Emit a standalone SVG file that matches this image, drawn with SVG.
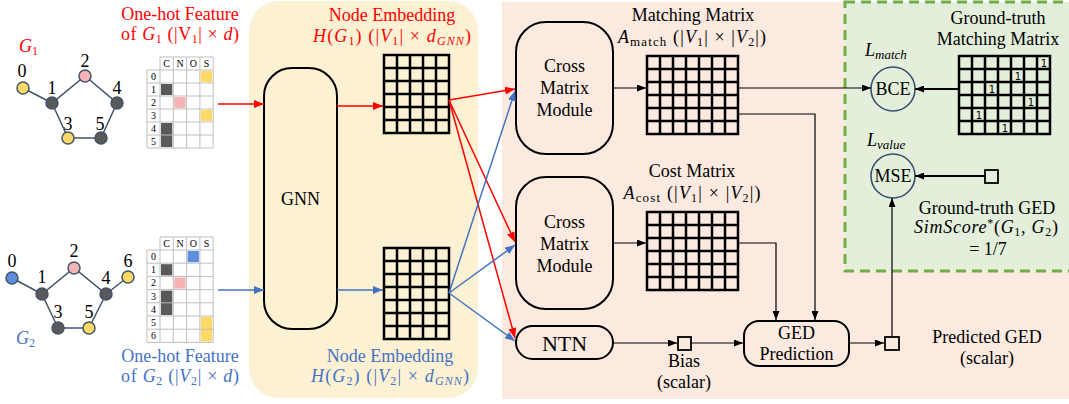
<svg xmlns="http://www.w3.org/2000/svg" width="1069" height="404" viewBox="0 0 1069 404" font-family="'Liberation Serif','DejaVu Serif','Noto Serif',serif">
<style>
text{font-family:'Liberation Serif','DejaVu Serif','Noto Serif',serif;font-size:18px;fill:#000}
.red{fill:#FF0000}
.blue{fill:#4472C4}
.it{font-style:italic}
.sm{font-size:10px}
.big{font-size:22px}
.one{font-family:'DejaVu Sans',sans-serif;font-size:10px}
.box{fill:none;stroke:#000;stroke-width:2}
.mat{fill:none;stroke:#000;stroke-width:2.5;stroke-linecap:square}
.tbl{fill:none;stroke:#BFBFBF;stroke-width:1}
.edge{stroke:#44546A;stroke-width:1.5;fill:none}
.nd{stroke:#44546A;stroke-width:1.5}
.y{fill:#FFD966}.p{fill:#F6B3B3}.d{fill:#595959}.b{fill:#5B8FDC}
.cr{fill:none;stroke:#3A5070;stroke-width:1.6}
.cR{stroke:#FF0000;stroke-width:1.5;fill:none}
.cB{stroke:#4472C4;stroke-width:1.5;fill:none}
.cK{stroke:#000;stroke-width:1.2;fill:none}
.cK2{stroke:#000;stroke-width:2;fill:none}
</style>
<defs>
<marker id="aR" markerUnits="userSpaceOnUse" markerWidth="10" markerHeight="8" refX="10" refY="4" orient="auto"><path d="M0,0 L10,4 L0,8 z" fill="#FF0000"/></marker>
<marker id="aB" markerUnits="userSpaceOnUse" markerWidth="10" markerHeight="8" refX="10" refY="4" orient="auto"><path d="M0,0 L10,4 L0,8 z" fill="#4472C4"/></marker>
<marker id="aK" markerUnits="userSpaceOnUse" markerWidth="9" markerHeight="7" refX="9" refY="3.5" orient="auto"><path d="M0,0 L9,3.5 L0,7 z" fill="#000"/></marker>
</defs>

<!-- backgrounds -->
<g id="backgrounds">
<rect x="249" y="1" width="229" height="397" rx="30" fill="#FDF1D3"/>
<rect x="502" y="2" width="567" height="397" fill="#FCEAE0"/>
<rect x="845" y="2" width="230" height="269" fill="#E3EFDB" stroke="#70AD47" stroke-width="3" stroke-dasharray="10,6"/>
</g>

<!-- Graph G1 -->
<g id="graph-g1">
<text x="19" y="52" class="red it">G<tspan font-size="12" dy="3" font-style="normal">1</tspan></text>
<path class="edge" d="M23,88 L52,103 L85,76 L117,103 L101,138 L68,138 L52,103"/>
<circle class="nd y" cx="23" cy="88" r="6"/>
<circle class="nd d" cx="52" cy="103" r="6"/>
<circle class="nd p" cx="85" cy="76" r="6"/>
<circle class="nd d" cx="117" cy="103" r="6"/>
<circle class="nd y" cx="68" cy="138" r="6"/>
<circle class="nd d" cx="101" cy="138" r="6"/>
<text x="22" y="77" text-anchor="middle">0</text>
<text x="52" y="94" text-anchor="middle">1</text>
<text x="85" y="67" text-anchor="middle">2</text>
<text x="117" y="94" text-anchor="middle">4</text>
<text x="68" y="130" text-anchor="middle">3</text>
<text x="100" y="130" text-anchor="middle">5</text>
</g>

<!-- Graph G2 -->
<g id="graph-g2">
<path class="edge" d="M12,278 L42,294 L74,268 L106,294 L128,277 M106,294 L89,328 L58,328 L42,294"/>
<circle class="nd b" cx="12" cy="278" r="6"/>
<circle class="nd d" cx="42" cy="294" r="6"/>
<circle class="nd p" cx="74" cy="268" r="6"/>
<circle class="nd d" cx="106" cy="294" r="6"/>
<circle class="nd y" cx="128" cy="277" r="6"/>
<circle class="nd d" cx="58" cy="328" r="6"/>
<circle class="nd y" cx="89" cy="328" r="6"/>
<text x="12" y="267" text-anchor="middle">0</text>
<text x="42" y="283" text-anchor="middle">1</text>
<text x="74" y="257" text-anchor="middle">2</text>
<text x="128" y="267" text-anchor="middle">6</text>
<text x="106" y="284" text-anchor="middle">4</text>
<text x="58" y="318" text-anchor="middle">3</text>
<text x="89" y="318" text-anchor="middle">5</text>
<text x="16" y="344" class="blue it">G<tspan font-size="12" dy="3" font-style="normal">2</tspan></text>
</g>

<!-- One-hot table G1 -->
<g id="onehot-g1">
<text x="180" y="20" text-anchor="middle" class="red">One-hot Feature</text>
<text x="180" y="40" text-anchor="middle" class="red" textLength="118" lengthAdjust="spacing">of <tspan class="it">G</tspan><tspan font-size="12" dy="3">1</tspan><tspan dy="-3"> (|V</tspan><tspan font-size="12" dy="3">1</tspan><tspan dy="-3">| × </tspan><tspan class="it">d</tspan>)</text>
<rect class="y" x="200.9" y="71" width="11.3" height="11"/>
<rect class="d" x="161" y="84" width="11.3" height="11"/>
<rect class="p" x="174.3" y="97" width="11.3" height="11"/>
<rect class="y" x="200.9" y="110" width="11.3" height="11"/>
<rect class="d" x="161" y="123" width="11.3" height="24"/>
<path class="tbl" d="M147,70 V148 M160,57 V148 M173.3,57 V148 M186.6,57 V148 M199.9,57 V148 M213.2,57 V148 M160,57 H213.2 M147,70 H213.2 M147,83 H213.2 M147,96 H213.2 M147,109 H213.2 M147,122 H213.2 M147,135 H213.2 M147,148 H213.2"/>
<g text-anchor="middle">
<text class="sm" x="166.6" y="67">C</text><text class="sm" x="180" y="67">N</text><text class="sm" x="193.3" y="67">O</text><text class="sm" x="206.6" y="67">S</text>
<text class="sm" x="153.5" y="80">0</text><text class="sm" x="153.5" y="93">1</text><text class="sm" x="153.5" y="106">2</text><text class="sm" x="153.5" y="119">3</text><text class="sm" x="153.5" y="132">4</text><text class="sm" x="153.5" y="145">5</text>
</g>
</g>

<!-- One-hot table G2 -->
<g id="onehot-g2">
<rect class="b" x="187.6" y="251" width="11.3" height="11.2"/>
<rect class="d" x="161" y="264.2" width="11.3" height="11.2"/>
<rect class="p" x="174.3" y="277.4" width="11.3" height="11.2"/>
<rect class="d" x="161" y="290.6" width="11.3" height="24.4"/>
<rect class="y" x="200.9" y="317" width="11.3" height="24.4"/>
<path class="tbl" d="M147,250 V342.4 M160,237 V342.4 M173.3,237 V342.4 M186.6,237 V342.4 M199.9,237 V342.4 M213.2,237 V342.4 M160,237 H213.2 M147,250 H213.2 M147,263.2 H213.2 M147,276.4 H213.2 M147,289.6 H213.2 M147,302.8 H213.2 M147,316 H213.2 M147,329.2 H213.2 M147,342.4 H213.2"/>
<g text-anchor="middle">
<text class="sm" x="166.6" y="247">C</text><text class="sm" x="180" y="247">N</text><text class="sm" x="193.3" y="247">O</text><text class="sm" x="206.6" y="247">S</text>
<text class="sm" x="153.5" y="260">0</text><text class="sm" x="153.5" y="273.2">1</text><text class="sm" x="153.5" y="286.4">2</text><text class="sm" x="153.5" y="299.6">3</text><text class="sm" x="153.5" y="312.8">4</text><text class="sm" x="153.5" y="326">5</text><text class="sm" x="153.5" y="339.2">6</text>
</g>
<text x="180" y="362" text-anchor="middle" class="blue">One-hot Feature</text>
<text x="180" y="382" text-anchor="middle" class="blue" textLength="118" lengthAdjust="spacing">of <tspan class="it">G</tspan><tspan font-size="12" dy="3">2</tspan><tspan dy="-3"> (|</tspan><tspan class="it">V</tspan><tspan font-size="12" dy="3">2</tspan><tspan dy="-3">| × </tspan><tspan class="it">d</tspan>)</text>
</g>

<!-- GNN -->
<g id="gnn">
<rect class="box" x="264" y="68" width="73" height="261" rx="28"/>
<text x="300.5" y="205" text-anchor="middle">GNN</text>
</g>

<!-- Node embedding G1 -->
<g id="embed-g1">
<text x="392" y="21" text-anchor="middle" class="red">Node Embedding</text>
<text x="392" y="42" text-anchor="middle" class="red" textLength="158" lengthAdjust="spacing"><tspan class="it">H</tspan>(<tspan class="it">G</tspan><tspan font-size="12" dy="3">1</tspan><tspan dy="-3">) (|</tspan><tspan class="it">V</tspan><tspan font-size="12" dy="3">1</tspan><tspan dy="-3">| × </tspan><tspan class="it">d</tspan><tspan font-size="12" dy="3" class="it">GNN</tspan><tspan dy="-3">)</tspan></text>
<path class="mat" d="M384,55 H449 V133 H384 Z M397,55 V133 M410,55 V133 M423,55 V133 M436,55 V133 M384,68 H449 M384,81 H449 M384,94 H449 M384,107 H449 M384,120 H449"/>
</g>

<!-- Node embedding G2 -->
<g id="embed-g2">
<path class="mat" d="M384,248 H449 V339 H384 Z M397,248 V339 M410,248 V339 M423,248 V339 M436,248 V339 M384,261 H449 M384,274 H449 M384,287 H449 M384,300 H449 M384,313 H449 M384,326 H449"/>
<text x="390" y="362" text-anchor="middle" class="blue">Node Embedding</text>
<text x="390" y="382" text-anchor="middle" class="blue" textLength="158" lengthAdjust="spacing"><tspan class="it">H</tspan>(<tspan class="it">G</tspan><tspan font-size="12" dy="3">2</tspan><tspan dy="-3">) (|</tspan><tspan class="it">V</tspan><tspan font-size="12" dy="3">2</tspan><tspan dy="-3">| × </tspan><tspan class="it">d</tspan><tspan font-size="12" dy="3" class="it">GNN</tspan><tspan dy="-3">)</tspan></text>
</g>

<!-- Cross Matrix Modules -->
<g id="cmm1">
<rect class="box" x="516" y="22" width="97" height="132" rx="30"/>
<text x="564.5" y="72" text-anchor="middle">Cross</text>
<text x="564.5" y="94" text-anchor="middle">Matrix</text>
<text x="564.5" y="116" text-anchor="middle">Module</text>
</g>
<g id="cmm2">
<rect class="box" x="516" y="177" width="97" height="132" rx="30"/>
<text x="564.5" y="228" text-anchor="middle">Cross</text>
<text x="564.5" y="250" text-anchor="middle">Matrix</text>
<text x="564.5" y="272" text-anchor="middle">Module</text>
</g>
<g id="ntn">
<rect class="box" x="516" y="326" width="97" height="33" rx="16.5"/>
<text x="564.5" y="351" text-anchor="middle" class="big">NTN</text>
</g>

<!-- Matching matrix -->
<g id="matching-matrix">
<text x="693" y="21" text-anchor="middle">Matching Matrix</text>
<text x="692" y="43" text-anchor="middle" textLength="148" lengthAdjust="spacing"><tspan class="it">A</tspan><tspan font-size="13" dy="3">match</tspan><tspan dy="-3"> (|</tspan><tspan class="it">V</tspan><tspan font-size="12" dy="3">1</tspan><tspan dy="-3">| × |</tspan><tspan class="it">V</tspan><tspan font-size="12" dy="3">2</tspan><tspan dy="-3">|)</tspan></text>
<path class="mat" d="M647,56 H738 V134 H647 Z M660,56 V134 M673,56 V134 M686,56 V134 M699,56 V134 M712,56 V134 M725,56 V134 M647,69 H738 M647,82 H738 M647,95 H738 M647,108 H738 M647,121 H738"/>
</g>

<!-- Cost matrix -->
<g id="cost-matrix">
<text x="692" y="177" text-anchor="middle">Cost Matrix</text>
<text x="692" y="199" text-anchor="middle" textLength="137" lengthAdjust="spacing"><tspan class="it">A</tspan><tspan font-size="13" dy="3">cost</tspan><tspan dy="-3"> (|</tspan><tspan class="it">V</tspan><tspan font-size="12" dy="3">1</tspan><tspan dy="-3">| × |</tspan><tspan class="it">V</tspan><tspan font-size="12" dy="3">2</tspan><tspan dy="-3">|)</tspan></text>
<path class="mat" d="M647,212 H738 V290 H647 Z M660,212 V290 M673,212 V290 M686,212 V290 M699,212 V290 M712,212 V290 M725,212 V290 M647,225 H738 M647,238 H738 M647,251 H738 M647,264 H738 M647,277 H738"/>
</g>

<!-- Bias -->
<g id="bias">
<rect x="678" y="337" width="13" height="13" fill="none" stroke="#000" stroke-width="1.8"/>
<text x="684" y="367" text-anchor="middle">Bias</text>
<text x="684" y="388" text-anchor="middle">(scalar)</text>
</g>

<!-- GED prediction -->
<g id="ged-prediction">
<rect class="box" x="744" y="321" width="105" height="45" rx="15"/>
<text x="796.5" y="339" text-anchor="middle">GED</text>
<text x="796.5" y="360" text-anchor="middle">Prediction</text>
</g>

<!-- Predicted GED -->
<g id="predicted-ged">
<rect x="885" y="337" width="14" height="13" fill="none" stroke="#000" stroke-width="1.8"/>
<text x="987" y="343" text-anchor="middle">Predicted GED</text>
<text x="987" y="364" text-anchor="middle">(scalar)</text>
</g>

<!-- Ground truth matrix -->
<g id="gt-matrix">
<text x="998" y="24" text-anchor="middle">Ground-truth</text>
<text x="998" y="45" text-anchor="middle">Matching Matrix</text>
<path class="mat" d="M959,56 H1050 V134 H959 Z M972,56 V134 M985,56 V134 M998,56 V134 M1011,56 V134 M1024,56 V134 M1037,56 V134 M959,69 H1050 M959,82 H1050 M959,95 H1050 M959,108 H1050 M959,121 H1050"/>
<g text-anchor="middle">
<text class="one" x="1044" y="67">1</text>
<text class="one" x="1018" y="80">1</text>
<text class="one" x="992" y="93">1</text>
<text class="one" x="1031" y="106">1</text>
<text class="one" x="979" y="119">1</text>
<text class="one" x="1005" y="132">1</text>
</g>
</g>

<!-- Loss nodes -->
<g id="bce">
<text x="865" y="56" class="it">L<tspan font-size="13" dy="3">match</tspan></text>
<circle class="cr" cx="893" cy="89" r="22"/>
<text x="893" y="95" text-anchor="middle">BCE</text>
</g>
<g id="mse">
<text x="867" y="146" class="it">L<tspan font-size="13" dy="3">value</tspan></text>
<circle class="cr" cx="893" cy="176" r="22"/>
<text x="893" y="182" text-anchor="middle">MSE</text>
</g>
<g id="gt-ged">
<rect x="985" y="170" width="13" height="13" fill="none" stroke="#000" stroke-width="1.8"/>
<text x="987" y="214" text-anchor="middle">Ground-truth GED</text>
<text x="986" y="233" text-anchor="middle" class="it" textLength="144" lengthAdjust="spacing">SimScore<tspan font-size="12" dy="-6" font-style="normal">*</tspan><tspan dy="6" font-style="normal">(</tspan>G<tspan font-size="12" dy="3" font-style="normal">1</tspan><tspan dy="-3" font-style="normal">, </tspan>G<tspan font-size="12" dy="3" font-style="normal">2</tspan><tspan dy="-3" font-style="normal">)</tspan></text>
<text x="988" y="255" text-anchor="middle">= 1/7</text>
</g>

<!-- Connectors -->
<g id="connectors">
<line class="cR" x1="218" y1="104" x2="264" y2="104" marker-end="url(#aR)"/>
<line class="cB" x1="218" y1="290" x2="264" y2="290" marker-end="url(#aB)"/>
<line class="cR" x1="337" y1="106" x2="383" y2="106" marker-end="url(#aR)"/>
<line class="cB" x1="337" y1="290" x2="383" y2="290" marker-end="url(#aB)"/>
<line class="cR" x1="449" y1="100" x2="515" y2="89" marker-end="url(#aR)"/>
<line class="cR" x1="449" y1="100" x2="515" y2="242" marker-end="url(#aR)"/>
<line class="cR" x1="449" y1="100" x2="515" y2="338" marker-end="url(#aR)"/>
<line class="cB" x1="449" y1="293" x2="515" y2="91" marker-end="url(#aB)"/>
<line class="cB" x1="449" y1="293" x2="515" y2="245" marker-end="url(#aB)"/>
<line class="cB" x1="449" y1="293" x2="515" y2="341" marker-end="url(#aB)"/>
<line class="cK" x1="613" y1="88" x2="646" y2="88" marker-end="url(#aK)"/>
<line class="cK" x1="738" y1="88" x2="871" y2="88" marker-end="url(#aK)"/>
<path class="cK" d="M738,114 H815 V320" marker-end="url(#aK)"/>
<line class="cK" x1="613" y1="243" x2="646" y2="243" marker-end="url(#aK)"/>
<path class="cK" d="M738,243 H776 V320" marker-end="url(#aK)"/>
<line class="cK" x1="613" y1="343" x2="677" y2="343" marker-end="url(#aK)"/>
<line class="cK" x1="691" y1="343" x2="743" y2="343" marker-end="url(#aK)"/>
<line class="cK" x1="849" y1="343" x2="884" y2="343" marker-end="url(#aK)"/>
<line class="cK" x1="892" y1="337" x2="892" y2="198" marker-end="url(#aK)"/>
<line class="cK2" x1="959" y1="89" x2="915" y2="89" marker-end="url(#aK)"/>
<line class="cK2" x1="985" y1="176" x2="915" y2="176" marker-end="url(#aK)"/>
</g>
</svg>
